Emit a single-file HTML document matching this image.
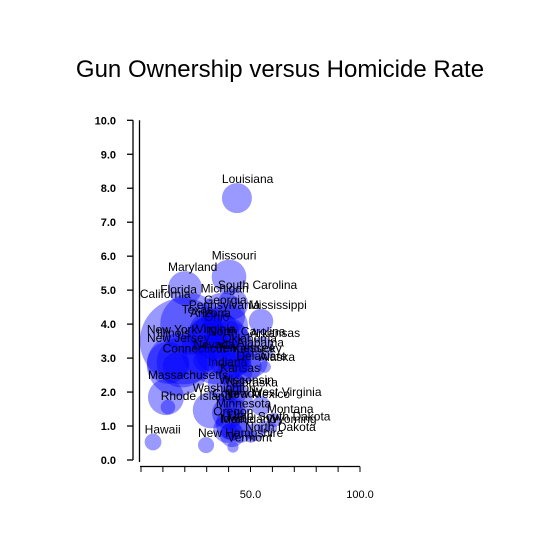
<!DOCTYPE html>
<html><head><meta charset="utf-8"><style>
html,body{margin:0;padding:0;background:#fff;}
svg{display:block;font-family:"Liberation Sans",Arial,sans-serif;}
</style></head><body>
<svg id="chart" width="560" height="560" viewBox="0 0 560 560">
<text x="280" y="77" font-size="24" text-anchor="middle">Gun Ownership versus Homicide Rate</text>
<g id="axes"></g>
<g id="bubbles"></g>
</svg>
<script>
const states = ["Louisiana","Missouri","Maryland","South Carolina","Florida","Michigan","California","Georgia","Pennsylvania","Ohio","Texas","Arizona","Illinois","New York","New Jersey","Virginia","North Carolina","Mississippi","Arkansas","Oklahoma","Alabama","Kentucky","Tennessee","Alaska","Connecticut","Indiana","Kansas","Nevada","Delaware","Massachusetts","Wisconsin","Nebraska","Washington","Colorado","New Mexico","Rhode Island","West Virginia","Minnesota","Oregon","Montana","Utah","South Dakota","Iowa","Maine","Idaho","Wyoming","North Dakota","New Hampshire","Vermont","Hawaii"];
const gunOwnership = [43.8,40.2,20.1,42.0,22.8,37.4,19.2,38.8,33.3,39.7,34.7,30.6,18.7,16.9,12.3,34.2,40.6,54.8,55.3,43.4,50.7,48.4,42.9,56.6,16.0,38.8,41.6,29.2,46.6,11.4,43.4,43.4,32.0,39.7,42.9,12.3,54.8,41.6,39.3,60.7,45.2,56.2,41.6,40.2,52.1,59.8,50.2,29.7,42.0,5.5];
const homicideRate = [7.71,5.39,5.06,4.59,4.00,4.27,3.50,3.94,3.71,3.39,3.27,3.68,2.88,2.80,2.86,3.15,3.03,4.09,3.27,3.06,2.88,2.74,2.65,2.74,2.77,2.24,2.24,2.94,2.74,1.85,1.74,1.88,1.47,1.38,1.53,1.56,1.59,1.06,0.91,1.18,0.85,0.97,0.74,0.85,0.82,0.94,0.68,0.44,0.38,0.53];
const population = [4.5,6.0,5.8,4.6,18.8,9.9,37.3,9.7,12.7,11.5,25.1,6.4,12.8,19.4,8.8,8.0,9.5,3.0,2.9,3.8,4.8,4.3,6.3,0.7,3.6,6.5,2.9,2.7,0.9,6.5,5.7,1.8,6.7,5.0,2.1,1.05,1.9,5.3,3.8,1.0,2.8,0.8,3.0,1.3,1.6,0.56,0.67,1.3,0.63,1.4];
const yTicks = ["0.0","1.0","2.0","3.0","4.0","5.0","6.0","7.0","8.0","9.0","10.0"];
const xTickLabels = ["50.0","100.0"];

const NS="http://www.w3.org/2000/svg";
function xScale(v){return 141 + v*2.19;}
function yScale(v){return 460 - v*33.97;}
function rScale(p){return 7.07*Math.sqrt(p);}
function mk(tag,attrs,parent){const e=document.createElementNS(NS,tag);for(const k in attrs)e.setAttribute(k,attrs[k]);parent.appendChild(e);return e;}

const axes=document.getElementById('axes');
let yl=mk('line',{x1:133,y1:yScale(10),x2:133,y2:yScale(0),stroke:'#000','stroke-width':1.3},axes);


let pl=mk('line',{x1:139.5,y1:yScale(10),x2:139.5,y2:462,stroke:'#000','stroke-width':1.3},axes);


yTicks.forEach((t,i)=>{
  const v=parseFloat(t);const y=yScale(v);
  const tk=mk('line',{x1:127,y1:y,x2:133,y2:y,stroke:'#000','stroke-width':1.3},axes);
  
  
  const tx=mk('text',{x:116,y:y+4,'font-size':11,'font-weight':'bold','text-anchor':'end'},axes);
  tx.textContent=t;
  
  
});
let xl=mk('line',{x1:140,y1:466.5,x2:360,y2:466.5,stroke:'#000','stroke-width':1.3},axes);


for(let k=0;k<=100;k+=10){
  const x=xScale(k);
  const tk=mk('line',{x1:x,y1:466.5,x2:x,y2:472,stroke:'#000','stroke-width':1},axes);
  
  
}
xTickLabels.forEach(t=>{
  const tx=mk('text',{x:xScale(parseFloat(t)),y:498,'font-size':11,'text-anchor':'middle'},axes);
  tx.textContent=t;
  
  
});

const g=document.getElementById('bubbles');
states.forEach((s,i)=>{
  const cx=xScale(gunOwnership[i]), cy=yScale(homicideRate[i]), r=rScale(population[i]);
  const c=mk('circle',{cx:cx,cy:cy,r:r,fill:'#0000ff','fill-opacity':0.4},g);
  
  
  const t=mk('text',{x:cx-r,y:cy-r,'font-size':12,fill:'#000'},g);
  t.textContent=s;
  
  
});
</script>
</body></html>
